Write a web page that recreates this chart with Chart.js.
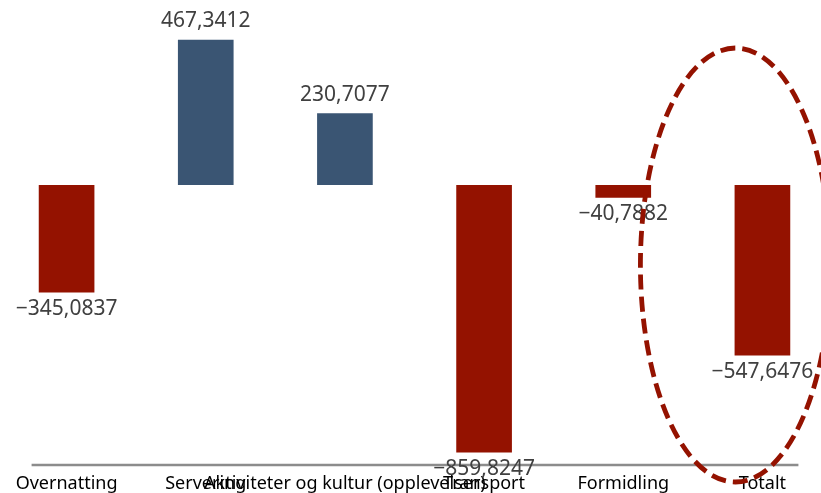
<!DOCTYPE html>
<html>
<head>
<meta charset="utf-8">
<script src="https://cdn.jsdelivr.net/npm/chart.js@4"></script>
<style>
  html, body { margin: 0; padding: 0; background: #fff; overflow: hidden; }
  #wrap { position: absolute; left: -3px; top: 0; width: 835px; height: 493px; }
</style>
</head>
<body>
<div id="wrap"><canvas id="chart"></canvas></div>
<script>
const categories = ["Overnatting", "Servering", "Aktiviteter og kultur (opplevelser)", "Transport", "Formidling", "Totalt"];
const values = [-345.0837, 467.3412, 230.7077, -859.8247, -40.7882, -547.6476];

const RED = "#941200";
const BLUE = "#3a5573";

function fmt(v) {
  return v.toFixed(4).replace(".", ",").replace("-", "\u2212");
}

// value labels above / below each bar
const valueLabels = {
  id: "valueLabels",
  afterDatasetsDraw(chart) {
    const ctx = chart.ctx;
    const meta = chart.getDatasetMeta(0);
    ctx.save();
    ctx.font = "21px 'Noto Sans'";
    ctx.fillStyle = "#404040";
    ctx.textAlign = "center";
    ctx.textBaseline = "alphabetic";
    meta.data.forEach((bar, i) => {
      const v = values[i];
      const y = v >= 0 ? bar.y - 12.5 : bar.y + 22.5;
      ctx.fillText(fmt(v), bar.x, y);
    });
    ctx.restore();
  },
};

// grey base line and dashed ellipse round "Totalt"
const extras = {
  id: "extras",
  beforeDatasetsDraw(chart) {
    const ctx = chart.ctx;
    const x = chart.scales.x;
    const bottom = chart.chartArea.bottom;
    ctx.save();
    ctx.strokeStyle = "#8c8c8c";
    ctx.lineWidth = 2.5;
    ctx.beginPath();
    ctx.moveTo(x.getPixelForValue(0) - 35, bottom);
    ctx.lineTo(x.getPixelForValue(categories.length - 1) + 36, bottom);
    ctx.stroke();
    ctx.restore();
  },
  afterDraw(chart) {
    const ctx = chart.ctx;
    const x = chart.scales.x;
    const cx = x.getPixelForValue(categories.length - 1) - 27;
    ctx.save();
    ctx.strokeStyle = RED;
    ctx.lineWidth = 4.8;
    ctx.setLineDash([15, 7]);
    ctx.beginPath();
    ctx.ellipse(cx, 265, 95, 217, 0, 0, Math.PI * 2);
    ctx.stroke();
    ctx.restore();
  },
};

new Chart(document.getElementById("chart"), {
  type: "bar",
  data: {
    labels: categories,
    datasets: [
      {
        data: values,
        backgroundColor: values.map((v) => (v >= 0 ? BLUE : RED)),
        barPercentage: 0.4,
        categoryPercentage: 1,
      },
    ],
  },
  options: {
    responsive: true,
    maintainAspectRatio: false,
    animation: false,
    layout: { padding: 0 },
    plugins: {
      legend: { display: false },
      tooltip: { enabled: false },
    },
    scales: {
      x: {
        grid: { display: false, drawTicks: false },
        border: { display: false },
        afterFit(scale) {
          scale.height = 28;
        },
        ticks: {
          color: "#000",
          font: { family: "'Noto Sans'", size: 18 },
          padding: 8,
          maxRotation: 0,
          minRotation: 0,
          autoSkip: false,
        },
      },
      y: {
        display: false,
        min: -900,
        max: 595,
      },
    },
  },
  plugins: [valueLabels, extras],
});
</script>
</body>
</html>
